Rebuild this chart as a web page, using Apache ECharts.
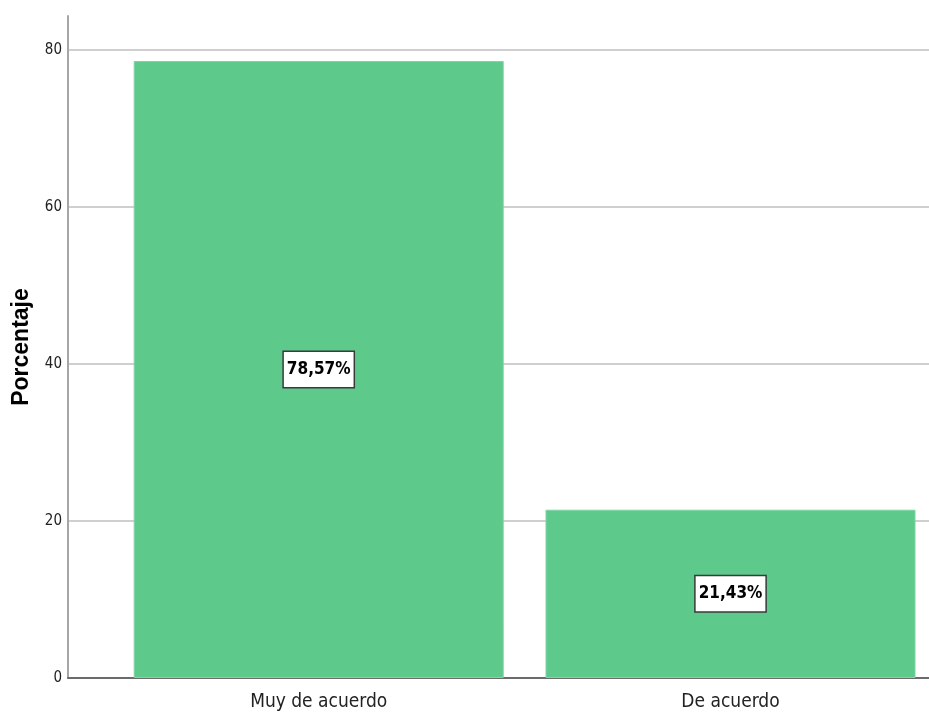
<!DOCTYPE html>
<html>
<head>
<meta charset="utf-8">
<script src="https://cdn.jsdelivr.net/npm/echarts@6/dist/echarts.min.js"></script>
<style>
  html, body { margin: 0; padding: 0; background: #fff; }
  #main { width: 929px; height: 717px; }
</style>
</head>
<body>
<div id="main"></div>
<script>
// datos del gráfico
var categorias = ['Muy de acuerdo', 'De acuerdo'];
var porcentajes = [78.57, 21.43];
var posiciones = [0, 1];
var ticksY = [0, 20, 40, 60, 80];

var narrow = '"Liberation Sans Narrow", "DejaVu Sans Condensed", "Liberation Sans", sans-serif';

var myChart = echarts.init(document.getElementById('main'));

var option = {
  backgroundColor: '#ffffff',
  animation: false,
  grid: { left: 68, right: 0, top: 16, bottom: 39 },
  xAxis: {
    type: 'value',
    min: -0.6088,
    max: 1.482,
    splitLine: { show: false },
    axisTick: { show: false },
    axisLine: { show: true, onZero: false, lineStyle: { color: '#6b6b6b', width: 2 } },
    axisLabel: {
      customValues: posiciones,
      formatter: function (v) { return categorias[Math.round(v)]; },
      color: '#222',
      fontFamily: narrow,
      fontSize: 19,
      margin: 15
    }
  },
  yAxis: {
    type: 'value',
    min: 0,
    max: 84.3,
    interval: 20,
    name: 'Porcentaje',
    nameLocation: 'middle',
    nameGap: 35,
    nameTextStyle: { color: '#000', fontFamily: '"Liberation Sans", Arial, sans-serif', fontWeight: 'bold', fontSize: 23 },
    axisLine: { show: true, onZero: false, lineStyle: { color: '#a6a6a6', width: 2 } },
    axisTick: { show: false },
    axisLabel: {
      showMaxLabel: false,
      color: '#222',
      fontFamily: narrow,
      fontSize: 15,
      margin: 6,
      formatter: function (v) { return ticksY.indexOf(v) >= 0 ? String(v) : ''; }
    },
    splitLine: { show: true, showMaxLine: false, showMinLine: false, lineStyle: { color: '#cfcfcf', width: 2 } }
  },
  series: [{
    type: 'bar',
    barWidth: 370,
    data: posiciones.map(function (p, i) { return [p, porcentajes[i]]; }),
    itemStyle: { color: '#5dc98b', borderColor: '#7dd6a3', borderWidth: 1 },
    label: {
      show: true,
      position: 'inside',
      formatter: function (p) { return p.value[1].toFixed(2).replace('.', ',') + '%'; },
      color: '#000',
      fontFamily: narrow,
      fontWeight: 'bold',
      fontSize: 17,
      backgroundColor: '#ffffff',
      borderColor: '#3a3a3a',
      borderWidth: 1.5,
      padding: [10, 3, 8, 3]
    }
  }]
};

myChart.setOption(option);
</script>
</body>
</html>
